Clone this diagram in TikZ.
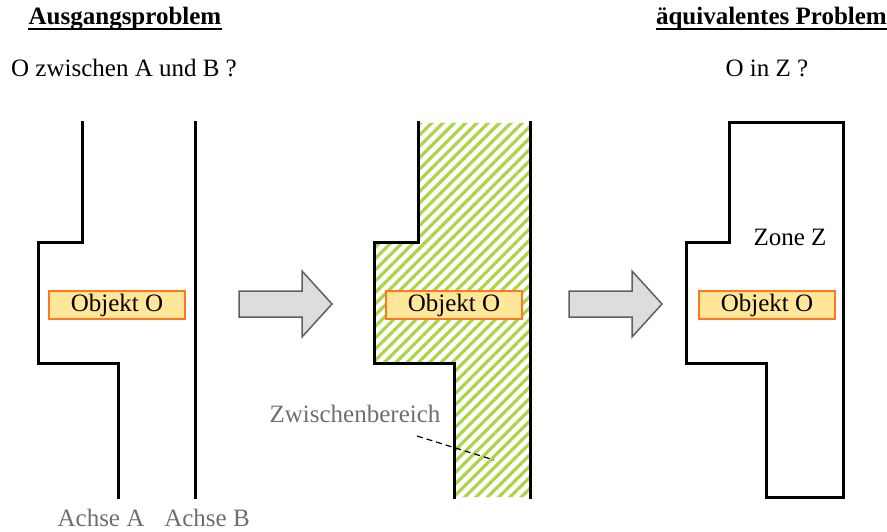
\documentclass[tikz,border=0pt]{standalone}
\usepackage{fontspec}
\setmainfont{Liberation Serif}
\usetikzlibrary{patterns.meta}

\definecolor{hatchgreen}{RGB}{172,212,72}
\definecolor{objfill}{RGB}{255,230,153}
\definecolor{objdraw}{RGB}{255,120,30}
\definecolor{arrowfill}{RGB}{221,221,221}
\definecolor{arrowdraw}{RGB}{95,95,95}
\definecolor{labelgray}{RGB}{110,110,110}

\tikzset{
  txt/.style={inner sep=0pt, font=\fontsize{25}{30}\selectfont},
  heading/.style={txt, font=\fontsize{25}{30}\selectfont\bfseries},
  graylabel/.style={txt, text=labelgray},
  wall/.style={line width=3pt, line join=miter, line cap=rect},
  objbox/.style={txt, draw=objdraw, fill=objfill, line width=1.5pt,
    minimum width=136pt, minimum height=28pt},
  blockarrow/.style={draw=arrowdraw, fill=arrowfill, line width=1.5pt, line join=miter},
  hatched/.style={pattern={Lines[angle=45,distance=8pt,line width=3.2pt]}, pattern color=hatchgreen},
  leader/.style={dashed, line width=1.2pt, dash pattern=on 6pt off 4pt}
}

\begin{document}
\begin{tikzpicture}[x=1pt,y=-1pt]
\useasboundingbox (0,0) rectangle (887,532);

% headings and questions
\node[heading, anchor=base] (h1) at (125,25) {Ausgangsproblem};
\draw[line width=2pt] ([yshift=-4pt]h1.base west) -- ([yshift=-4pt]h1.base east);
\node[heading, anchor=base east] (h2) at (887,25) {äquivalentes Problem};
\draw[line width=2pt] ([yshift=-4pt]h2.base west) -- ([yshift=-4pt]h2.base east);
\node[txt, anchor=base] (q1) at (124,77) {O zwischen A und B ?};
\node[txt, anchor=base] (q2) at (767,77) {O in Z ?};

% left panel: the two axes
\draw[wall] (82,123) -- (82,242) -- (38,242) -- (38,363) -- (118,363) -- (118,497);
\draw[wall] (195,123) -- (195,497);
\node[objbox] (o1) at (117,305) {Objekt O};
\node[graylabel, anchor=base] (la) at (101,526) {Achse A};
\node[graylabel, anchor=base] (lb) at (207,526) {Achse B};

% first block arrow
\draw[blockarrow] (239,291) -- (302,291) -- (302,271) -- (332,304) -- (302,337) -- (302,317) -- (239,317) -- cycle;

% middle panel: hatched region between the axes
\fill[hatched] (418,123) -- (530,123) -- (530,497) -- (454,497) -- (454,363) -- (374,363) -- (374,242) -- (418,242) -- cycle;
\draw[wall] (418,123) -- (418,242) -- (374,242) -- (374,363) -- (454,363) -- (454,497);
\draw[wall] (530,123) -- (530,497);
\node[objbox] (o2) at (454,305) {Objekt O};
\node[graylabel, anchor=base] (zw) at (355,422) {Zwischenbereich};
\coordinate (zwpt) at (494,460);
\draw[leader] (417,436) -- (zwpt);

% second block arrow
\draw[blockarrow] (569,291) -- (632,291) -- (632,271) -- (662,304) -- (632,337) -- (632,317) -- (569,317) -- cycle;

% right panel: zone Z
\draw[wall] (729,123) -- (843,123) -- (843,497) -- (766,497) -- (766,363) -- (686,363) -- (686,242) -- (729,242) -- cycle;
\node[txt, anchor=base] (zone) at (790,245) {Zone Z};
\node[objbox] (o3) at (767,305) {Objekt O};
\end{tikzpicture}
\end{document}
